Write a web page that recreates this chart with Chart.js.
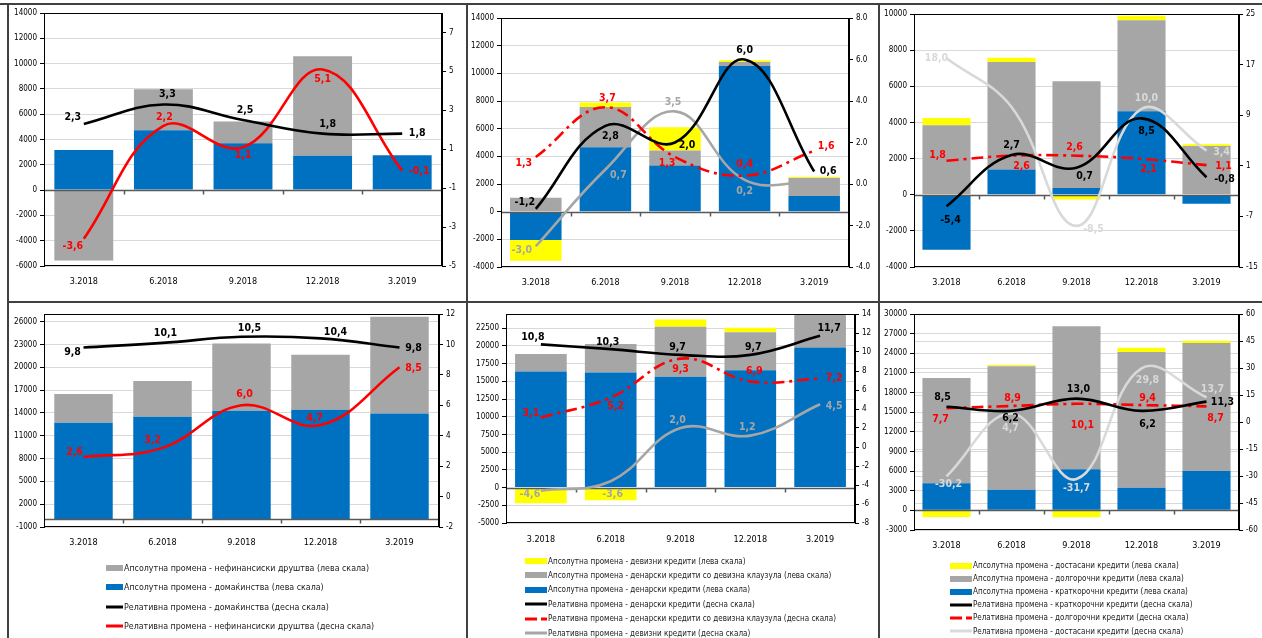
<!DOCTYPE html>
<html>
<head>
<meta charset="utf-8">
<script src="https://cdn.jsdelivr.net/npm/chart.js@4.4.1/dist/chart.umd.min.js"></script>
<style>
  html, body { margin: 0; padding: 0; background: #fff; }
  body { position: relative; width: 1262px; height: 638px; overflow: hidden; }
  canvas { position: absolute; }
  .rule { position: absolute; background: #404040; }
  .lg { position: absolute; display: flex; align-items: center; height: 14px; white-space: nowrap;
        font-family: Tahoma, "DejaVu Sans Condensed", "Liberation Sans", sans-serif; color: #1a1a1a; }
  .lg svg { flex: none; }
  .lg span { margin-left: 1px; }
</style>
</head>
<body>
<div class="rule" style="left:0;top:3px;width:1262px;height:1.5px"></div>
<div class="rule" style="left:7px;top:3px;width:1.5px;height:635px"></div>
<div class="rule" style="left:466px;top:3px;width:1.5px;height:635px"></div>
<div class="rule" style="left:878px;top:3px;width:1.5px;height:635px"></div>
<div class="rule" style="left:7px;top:301px;width:1255px;height:1.5px"></div>

<canvas id="c1"></canvas>
<canvas id="c2"></canvas>
<canvas id="c3"></canvas>
<canvas id="c4"></canvas>
<canvas id="c5"></canvas>
<canvas id="c6"></canvas>

<script>
// ---- categories (quarters) ----
const categories = ['3.2018', '6.2018', '9.2018', '12.2018', '3.2019'];

// ---- quarterly change: households / non-financial corporations ----
const hhAbsQ  = [3170, 4730, 3700, 2720, 2750];
const nfcAbsQ = [-5570, 3250, 1720, 7870, -80];
const hhRelQ  = [2.3, 3.3, 2.5, 1.8, 1.8];
const nfcRelQ = [-3.6, 2.2, 1.1, 5.1, -0.1];

// ---- quarterly change: by currency ----
const denAbsQ    = [-2050, 4660, 3330, 10530, 1140];
const clauseAbsQ = [1000, 2900, 1090, 290, 1300];
const fxAbsQ     = [-1500, 340, 1690, 120, 70];
const denRelQ    = [-1.2, 2.8, 2.0, 6.0, 0.6];
const clauseRelQ = [1.3, 3.7, 1.3, 0.4, 1.6];
const fxRelQ     = [-3.0, 0.7, 3.5, 0.2, 0.1];

// ---- quarterly change: by maturity ----
const shortAbsQ   = [-3050, 1400, 370, 4620, -500];
const longAbsQ    = [3840, 5940, 5910, 5030, 2700];
const overdueAbsQ = [410, 240, -260, 260, 90];
const shortRelQ   = [-5.4, 2.7, 0.7, 8.5, -0.8];
const longRelQ    = [1.8, 2.6, 2.6, 2.1, 1.1];
const overdueRelQ = [18.0, 10.3, -8.5, 10.0, 3.4];

// ---- annual change: households / non-financial corporations ----
const hhAbsY  = [12690, 13480, 14270, 14410, 13920];
const nfcAbsY = [3790, 4710, 8860, 7220, 12730];
const hhRelY  = [9.8, 10.1, 10.5, 10.4, 9.8];
const nfcRelY = [2.6, 3.2, 6.0, 4.7, 8.5];

// ---- annual change: by currency ----
const denAbsY    = [16370, 16230, 15660, 16560, 19760];
const clauseAbsY = [2500, 4050, 7030, 5370, 5200];
const fxAbsY     = [-2220, -1790, 1040, 620, 400];
const denRelY    = [10.8, 10.3, 9.7, 9.7, 11.7];
const clauseRelY = [3.1, 5.2, 9.3, 6.9, 7.2];
const fxRelY     = [-4.6, -3.6, 2.0, 1.2, 4.5];

// ---- annual change: by maturity ----
const shortAbsY   = [4130, 3160, 6270, 3460, 6010];
const longAbsY    = [16090, 18850, 21850, 20740, 19560];
const overdueAbsY = [-1020, 200, -1070, 660, 360];
const shortRelY   = [8.5, 6.2, 13.0, 6.2, 11.3];
const longRelY    = [7.7, 8.9, 10.1, 9.4, 8.7];
const overdueRelY = [-30.2, 4.7, -31.7, 29.8, 13.7];

// ---- axis ticks ----
const ticks1L = [-6000, -4000, -2000, 0, 2000, 4000, 6000, 8000, 10000, 12000, 14000];
const ticks1R = [-5, -3, -1, 1, 3, 5, 7];
const ticks2L = [-4000, -2000, 0, 2000, 4000, 6000, 8000, 10000, 12000, 14000];
const ticks2R = [-4, -2, 0, 2, 4, 6, 8];
const ticks3L = [-4000, -2000, 0, 2000, 4000, 6000, 8000, 10000];
const ticks3R = [-15, -7, 1, 9, 17, 25];
const ticks4L = [-1000, 2000, 5000, 8000, 11000, 14000, 17000, 20000, 23000, 26000];
const ticks4R = [-2, 0, 2, 4, 6, 8, 10, 12];
const ticks5L = [-5000, -2500, 0, 2500, 5000, 7500, 10000, 12500, 15000, 17500, 20000, 22500];
const ticks5R = [-8, -6, -4, -2, 0, 2, 4, 6, 8, 10, 12, 14];
const ticks6L = [-3000, 0, 3000, 6000, 9000, 12000, 15000, 18000, 21000, 24000, 27000, 30000];
const ticks6R = [-60, -45, -30, -15, 0, 15, 30, 45, 60];

// ---- series names ----
const N = {
  nfcAbs:    'Апсолутна промена - нефинансиски друштва (лева скала)',
  hhAbs:     'Апсолутна промена - домаќинства (лева скала)',
  hhRel:     'Релативна промена - домаќинства (десна скала)',
  nfcRel:    'Релативна промена - нефинансиски друштва (десна скала)',
  fxAbs:     'Апсолутна промена - девизни кредити (лева скала)',
  clauseAbs: 'Апсолутна промена - денарски кредити со девизна клаузула (лева скала)',
  denAbs:    'Апсолутна промена - денарски кредити (лева скала)',
  denRel:    'Релативна промена - денарски кредити (десна скала)',
  clauseRel: 'Релативна промена - денарски кредити со девизна клаузула (десна скала)',
  fxRel:     'Релативна промена - девизни кредити (десна скала)',
  overdueAbs:'Апсолутна промена - достасани кредити (лева скала)',
  longAbs:   'Апсолутна промена - долгорочни кредити (лева скала)',
  shortAbs:  'Апсолутна промена - краткорочни кредити (лева скала)',
  shortRel:  'Релативна промена - краткорочни кредити (десна скала)',
  longRel:   'Релативна промена - долгорочни кредити (десна скала)',
  overdueRel:'Релативна промена - достасани кредити (десна скала)'
};

// ---- styling ----
const FONT = 'Tahoma, "DejaVu Sans Condensed", "Liberation Sans", sans-serif';
const COL = { blue: '#0070C0', gray: '#A6A6A6', yellow: '#FFFF00', red: '#FF0000',
              black: '#000000', midGray: '#A6A6A6', light: '#D9D9D9' };
const DASHDOT = [12, 5, 3, 5];

const fmt = v => v.toFixed(1).replace('.', ',');

function drawZeroAxis(chart) {
  const { ctx, chartArea: a, scales: { x, y } } = chart;
  const y0 = Math.round(y.getPixelForValue(0)) + 0.5;
  const half = (x.getPixelForValue(1) - x.getPixelForValue(0)) / 2;
  ctx.save();
  ctx.strokeStyle = '#595959';
  ctx.lineWidth = 1.5;
  ctx.beginPath();
  ctx.moveTo(a.left, y0);
  ctx.lineTo(a.right, y0);
  for (let i = 1; i < chart.data.labels.length; i++) {
    const px = Math.round(x.getPixelForValue(i) - half) + 0.5;
    ctx.moveTo(px, y0);
    ctx.lineTo(px, y0 + 4);
  }
  ctx.stroke();
  ctx.restore();
}

const decor = {
  id: 'decor',
  beforeDraw(chart) { chart.$zeroDone = false; },
  beforeDatasetDraw(chart, args) {
    if (chart.$zeroDone || args.meta.type !== 'line') return;
    chart.$zeroDone = true;
    drawZeroAxis(chart);
  },
  afterDatasetsDraw(chart) {
    if (!chart.$zeroDone) { drawZeroAxis(chart); chart.$zeroDone = true; }
    const { ctx, chartArea: a } = chart;
    ctx.save();
    ctx.strokeStyle = '#000';
    ctx.lineWidth = 1;
    ctx.strokeRect(Math.round(a.left) + 0.5, Math.round(a.top) + 0.5,
                   Math.round(a.right - a.left) - 1, Math.round(a.bottom - a.top) - 1);
    ctx.font = 'bold 10.5px ' + FONT;
    ctx.textAlign = 'center';
    ctx.textBaseline = 'middle';
    chart.data.datasets.forEach((ds, di) => {
      if (!ds.labelOffsets) return;
      const meta = chart.getDatasetMeta(di);
      ctx.fillStyle = ds.labelColor;
      meta.data.forEach((pt, i) => {
        const off = ds.labelOffsets[i];
        if (!off) return;
        ctx.fillText(fmt(ds.data[i]), pt.x + off[0], pt.y + off[1]);
      });
    });
    ctx.restore();
  }
};

function panel(id, g, bars, lines, ax) {
  const cv = document.getElementById(id);
  cv.width = g.w; cv.height = g.h;
  cv.style.left = g.x + 'px'; cv.style.top = g.y + 'px';
  cv.style.width = g.w + 'px'; cv.style.height = g.h + 'px';

  const datasets = [];
  bars.forEach(b => datasets.push({
    type: 'bar', label: b.label, data: b.data, backgroundColor: b.color,
    yAxisID: 'y', stack: 's', order: 2, barPercentage: 0.74, categoryPercentage: 1
  }));
  lines.forEach(l => datasets.push({
    type: 'line', label: l.label, data: l.data, borderColor: l.color, borderWidth: 2.6,
    borderDash: l.dash || [], tension: 0.4, pointRadius: 0, fill: false,
    yAxisID: 'y1', order: 1, labelOffsets: l.offsets, labelColor: l.labelColor || l.color
  }));

  const tickFont = { family: FONT, size: 8 };
  new Chart(cv, {
    type: 'bar',
    data: { labels: categories, datasets },
    options: {
      responsive: false, animation: false, devicePixelRatio: 1,
      layout: { padding: { top: g.pt - g.y, left: 0, right: 0, bottom: 0 } },
      plugins: { legend: { display: false }, tooltip: { enabled: false } },
      scales: {
        x: {
          stacked: true,
          grid: { display: false, drawTicks: false },
          border: { display: false },
          ticks: { font: { family: FONT, size: 9 }, color: '#000', padding: g.xPad,
                   maxRotation: 0, autoSkip: false },
          afterFit: s => { s.height = g.y + g.h - g.pb; }
        },
        y: {
          stacked: true, position: 'left',
          min: ax.lMin, max: ax.lMax,
          afterBuildTicks: s => { s.ticks = ax.lTicks.map(v => ({ value: v })); },
          ticks: { font: tickFont, color: '#000', padding: 3, autoSkip: false,
                   callback: v => String(v) },
          grid: { color: c => (c.tick && c.tick.value === 0) ? 'rgba(0,0,0,0)' : '#D9D9D9',
                  lineWidth: 1, tickColor: '#000', tickLength: 4 },
          border: { color: '#000', width: 1 },
          afterFit: s => { s.width = g.pl - g.x; }
        },
        y1: {
          position: 'right',
          min: ax.rMin, max: ax.rMax,
          afterBuildTicks: s => { s.ticks = ax.rTicks.map(v => ({ value: v })); },
          ticks: { font: tickFont, color: '#000', padding: 3, autoSkip: false,
                   callback: v => ax.rFmt ? ax.rFmt(v) : String(v) },
          grid: { drawOnChartArea: !!ax.rGrid, color: '#D9D9D9', tickColor: '#000', tickLength: 4 },
          border: { color: '#000', width: 1 },
          afterFit: s => { s.width = g.x + g.w - g.pr; }
        }
      }
    },
    plugins: [decor]
  });
}

function legend(x, y, step, markW, fontSize, items) {
  items.forEach((it, i) => {
    const row = document.createElement('div');
    row.className = 'lg';
    row.style.left = x + 'px';
    row.style.top = (y + i * step - 7) + 'px';
    row.style.fontSize = fontSize + 'px';
    const mark = it.kind === 'bar'
      ? `<rect x="0" y="4" width="${markW}" height="6" fill="${it.color}"/>`
      : `<line x1="0" y1="7" x2="${markW}" y2="7" stroke="${it.color}" stroke-width="3"${it.dash ? ` stroke-dasharray="${it.dash}"` : ''}/>`;
    row.innerHTML = `<svg width="${markW}" height="14">${mark}</svg><span>${it.label}</span>`;
    document.body.appendChild(row);
  });
}

Chart.defaults.font.family = FONT;

// ---- top row ----
panel('c1', { x: 8, y: 4, w: 458, h: 297, pl: 44, pr: 442, pt: 13, pb: 266, xPad: 10 },
  [ { label: N.hhAbs, data: hhAbsQ, color: COL.blue },
    { label: N.nfcAbs, data: nfcAbsQ, color: COL.gray } ],
  [ { label: N.hhRel, data: hhRelQ, color: COL.black,
      offsets: [[-11, -7], [4, -10], [2, -10], [5, -9], [15, 0]] },
    { label: N.nfcRel, data: nfcRelQ, color: COL.red,
      offsets: [[-11, 8], [1, -9], [0, 8], [0, 10], [17, 1]] } ],
  { lMin: -6000, lMax: 14000, lTicks: ticks1L, rMin: -5, rMax: 8, rTicks: ticks1R });

panel('c2', { x: 467, y: 4, w: 411, h: 297, pl: 501, pr: 849, pt: 18, pb: 267, xPad: 10 },
  [ { label: N.denAbs, data: denAbsQ, color: COL.blue },
    { label: N.clauseAbs, data: clauseAbsQ, color: COL.gray },
    { label: N.fxAbs, data: fxAbsQ, color: COL.yellow } ],
  [ { label: N.denRel, data: denRelQ, color: COL.black,
      offsets: [[-11, -7], [5, 10], [12, 3], [0, -9], [14, 0]] },
    { label: N.clauseRel, data: clauseRelQ, color: COL.red, dash: DASHDOT,
      offsets: [[-12, 6], [2, -9], [-8, 6], [0, -11], [12, -5]] },
    { label: N.fxRel, data: fxRelQ, color: COL.midGray,
      offsets: [[-14, 4], [13, 6], [-2, -9], [0, 11], [-8, 4]] } ],
  { lMin: -4000, lMax: 14000, lTicks: ticks2L, rMin: -4, rMax: 8, rTicks: ticks2R,
    rFmt: v => v.toFixed(1) });

panel('c3', { x: 879, y: 4, w: 383, h: 297, pl: 914, pr: 1239, pt: 14, pb: 267, xPad: 10 },
  [ { label: N.shortAbs, data: shortAbsQ, color: COL.blue },
    { label: N.longAbs, data: longAbsQ, color: COL.gray },
    { label: N.overdueAbs, data: overdueAbsQ, color: COL.yellow } ],
  [ { label: N.shortRel, data: shortRelQ, color: COL.black,
      offsets: [[4, 14], [0, -10], [8, 9], [5, 13], [18, 2]] },
    { label: N.longRel, data: longRelQ, color: COL.red, dash: DASHDOT,
      offsets: [[-9, -5], [10, 11], [-2, -8], [7, 10], [17, 1]] },
    { label: N.overdueRel, data: overdueRelQ, color: COL.light,
      offsets: [[-10, 0], null, [17, 3], [5, -11], [15, 2]] } ],
  { lMin: -4000, lMax: 10000, lTicks: ticks3L, rMin: -15, rMax: 25, rTicks: ticks3R });

// ---- bottom row ----
panel('c4', { x: 8, y: 302, w: 458, h: 336, pl: 44, pr: 439, pt: 314, pb: 527, xPad: 10 },
  [ { label: N.hhAbs, data: hhAbsY, color: COL.blue },
    { label: N.nfcAbs, data: nfcAbsY, color: COL.gray } ],
  [ { label: N.hhRel, data: hhRelY, color: COL.black,
      offsets: [[-11, 5], [3, -10], [8, -9], [15, -6], [14, 1]] },
    { label: N.nfcRel, data: nfcRelY, color: COL.red,
      offsets: [[-9, -5], [-10, -8], [3, -11], [-6, -7], [14, 1]] } ],
  { lMin: -1000, lMax: 27000, lTicks: ticks4L, rMin: -2, rMax: 12, rTicks: ticks4R });

panel('c5', { x: 467, y: 302, w: 411, h: 336, pl: 506, pr: 855, pt: 314, pb: 523, xPad: 11 },
  [ { label: N.denAbs, data: denAbsY, color: COL.blue },
    { label: N.clauseAbs, data: clauseAbsY, color: COL.gray },
    { label: N.fxAbs, data: fxAbsY, color: COL.yellow } ],
  [ { label: N.denRel, data: denRelY, color: COL.black,
      offsets: [[-8, -7], [-3, -7], [-3, -8], [3, -8], [9, -8]] },
    { label: N.clauseRel, data: clauseRelY, color: COL.red, dash: DASHDOT,
      offsets: [[-10, -4], [5, 9], [0, 11], [4, -10], [14, 0]] },
    { label: N.fxRel, data: fxRelY, color: COL.midGray,
      offsets: [[-11, 4], [2, 13], [-3, -8], [-3, -8], [14, 2]] } ],
  { lMin: -5000, lMax: 24500, lTicks: ticks5L, rMin: -8, rMax: 14, rTicks: ticks5R });

panel('c6', { x: 879, y: 302, w: 383, h: 336, pl: 914, pr: 1239, pt: 314, pb: 530, xPad: 10 },
  [ { label: N.shortAbs, data: shortAbsY, color: COL.blue },
    { label: N.longAbs, data: longAbsY, color: COL.gray },
    { label: N.overdueAbs, data: overdueAbsY, color: COL.yellow } ],
  [ { label: N.shortRel, data: shortRelY, color: COL.black,
      offsets: [[-4, -9], [-1, 7], [2, -9], [6, 13], [16, 1]] },
    { label: N.longRel, data: longRelY, color: COL.red, dash: DASHDOT,
      offsets: [[-6, 11], [1, -8], [6, 21], [6, -7], [9, 12]] },
    { label: N.overdueRel, data: overdueRelY, color: COL.light,
      offsets: [[2, 8], [-1, 15], [0, 9], [6, 12], [6, -8]] } ],
  { lMin: -3000, lMax: 30000, lTicks: ticks6L, rMin: -60, rMax: 60, rTicks: ticks6R, rGrid: true });

// ---- legends ----
legend(106, 568, 19.3, 17, 8.8, [
  { kind: 'bar', color: COL.gray, label: N.nfcAbs },
  { kind: 'bar', color: COL.blue, label: N.hhAbs },
  { kind: 'line', color: COL.black, label: N.hhRel },
  { kind: 'line', color: COL.red, label: N.nfcRel }
]);
legend(525, 561, 14.4, 22, 8, [
  { kind: 'bar', color: COL.yellow, label: N.fxAbs },
  { kind: 'bar', color: COL.gray, label: N.clauseAbs },
  { kind: 'bar', color: COL.blue, label: N.denAbs },
  { kind: 'line', color: COL.black, label: N.denRel },
  { kind: 'line', color: COL.red, label: N.clauseRel, dash: '12 4' },
  { kind: 'line', color: COL.midGray, label: N.fxRel }
]);
legend(950, 565.5, 13.1, 22, 8, [
  { kind: 'bar', color: COL.yellow, label: N.overdueAbs },
  { kind: 'bar', color: COL.gray, label: N.longAbs },
  { kind: 'bar', color: COL.blue, label: N.shortAbs },
  { kind: 'line', color: COL.black, label: N.shortRel },
  { kind: 'line', color: COL.red, label: N.longRel, dash: '12 4' },
  { kind: 'line', color: COL.light, label: N.overdueRel }
]);
</script>
</body>
</html>
